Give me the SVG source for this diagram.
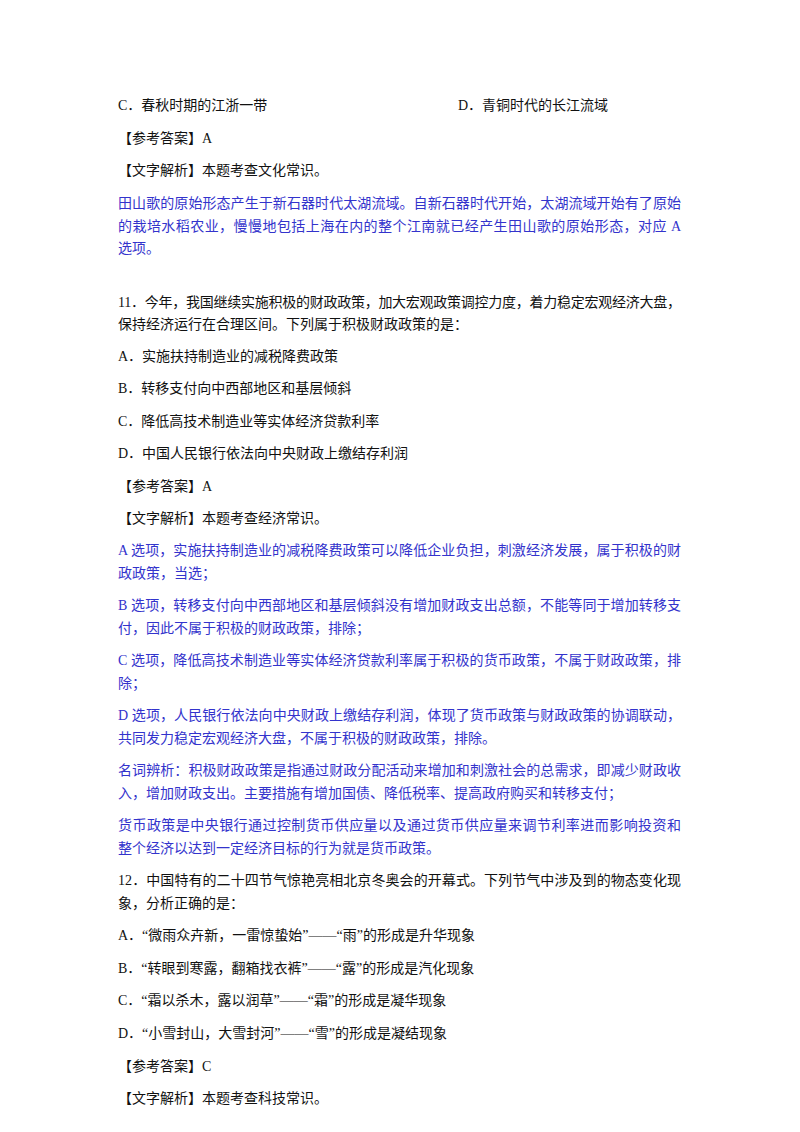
<svg xmlns="http://www.w3.org/2000/svg" width="800" height="1132" viewBox="0 0 800 1132">
<style>
text{font-family:"Liberation Serif","Noto Sans CJK SC",serif;font-size:14px;fill:#111}
.b{fill:#3333cc}
</style>
<rect width="800" height="1132" fill="#fff"/>
<g id="q10-tail">
<text x="118" y="110">C．春秋时期的江浙一带</text>
<text x="458" y="110">D．青铜时代的长江流域</text>
<text x="118" y="143">【参考答案】A</text>
<text x="118" y="175">【文字解析】本题考查文化常识。</text>
<text class="b" x="118" y="208" textLength="563" lengthAdjust="spacing">田山歌的原始形态产生于新石器时代太湖流域。自新石器时代开始，太湖流域开始有了原始</text>
<text class="b" x="118" y="231" textLength="563" lengthAdjust="spacing">的栽培水稻农业，慢慢地包括上海在内的整个江南就已经产生田山歌的原始形态，对应 A</text>
<text class="b" x="118" y="253">选项。</text>
</g>
<g id="q11">
<text x="118" y="307" textLength="563" lengthAdjust="spacing">11．今年，我国继续实施积极的财政政策，加大宏观政策调控力度，着力稳定宏观经济大盘，</text>
<text x="118" y="329">保持经济运行在合理区间。下列属于积极财政政策的是：</text>
<text x="118" y="361">A．实施扶持制造业的减税降费政策</text>
<text x="118" y="393">B．转移支付向中西部地区和基层倾斜</text>
<text x="118" y="426">C．降低高技术制造业等实体经济贷款利率</text>
<text x="118" y="458">D．中国人民银行依法向中央财政上缴结存利润</text>
<text x="118" y="491">【参考答案】A</text>
<text x="118" y="523">【文字解析】本题考查经济常识。</text>
<text class="b" x="118" y="555" textLength="563" lengthAdjust="spacing">A 选项，实施扶持制造业的减税降费政策可以降低企业负担，刺激经济发展，属于积极的财</text>
<text class="b" x="118" y="578">政政策，当选；</text>
<text class="b" x="118" y="610" textLength="563" lengthAdjust="spacing">B 选项，转移支付向中西部地区和基层倾斜没有增加财政支出总额，不能等同于增加转移支</text>
<text class="b" x="118" y="633">付，因此不属于积极的财政政策，排除；</text>
<text class="b" x="118" y="665" textLength="563" lengthAdjust="spacing">C 选项，降低高技术制造业等实体经济贷款利率属于积极的货币政策，不属于财政政策，排</text>
<text class="b" x="118" y="688">除；</text>
<text class="b" x="118" y="720" textLength="563" lengthAdjust="spacing">D 选项，人民银行依法向中央财政上缴结存利润，体现了货币政策与财政政策的协调联动，</text>
<text class="b" x="118" y="743">共同发力稳定宏观经济大盘，不属于积极的财政政策，排除。</text>
<text class="b" x="118" y="775" textLength="563" lengthAdjust="spacing">名词辨析：积极财政政策是指通过财政分配活动来增加和刺激社会的总需求，即减少财政收</text>
<text class="b" x="118" y="798">入，增加财政支出。主要措施有增加国债、降低税率、提高政府购买和转移支付；</text>
<text class="b" x="118" y="830" textLength="563" lengthAdjust="spacing">货币政策是中央银行通过控制货币供应量以及通过货币供应量来调节利率进而影响投资和</text>
<text class="b" x="118" y="853">整个经济以达到一定经济目标的行为就是货币政策。</text>
</g>
<g id="q12">
<text x="118" y="885" textLength="563" lengthAdjust="spacing">12．中国特有的二十四节气惊艳亮相北京冬奥会的开幕式。下列节气中涉及到的物态变化现</text>
<text x="118" y="908">象，分析正确的是：</text>
<text x="118" y="940">A．“微雨众卉新，一雷惊蛰始”——“雨”的形成是升华现象</text>
<text x="118" y="973">B．“转眼到寒露，翻箱找衣裤”——“露”的形成是汽化现象</text>
<text x="118" y="1005">C．“霜以杀木，露以润草”——“霜”的形成是凝华现象</text>
<text x="118" y="1038">D．“小雪封山，大雪封河”——“雪”的形成是凝结现象</text>
<text x="118" y="1071">【参考答案】C</text>
<text x="118" y="1103">【文字解析】本题考查科技常识。</text>
</g>
</svg>
